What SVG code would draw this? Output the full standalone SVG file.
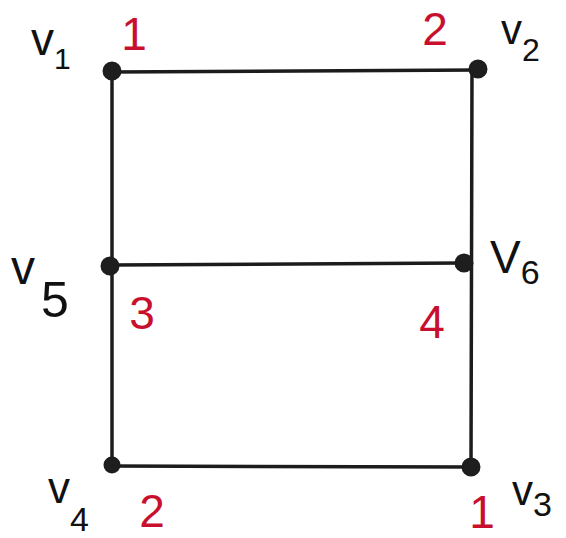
<svg xmlns="http://www.w3.org/2000/svg" width="566" height="538" viewBox="0 0 566 538">
<style>
.edge{stroke:#1c1c1c;stroke-width:3.5;fill:none;stroke-linecap:round}
.node{fill:#1e1e1e;stroke:#1e1e1e;stroke-width:2}
.lbl{font-family:"Liberation Sans","DejaVu Sans",sans-serif;fill:#111}
.num{font-family:"Liberation Sans","DejaVu Sans",sans-serif;fill:#c8102e;font-size:46px;text-anchor:middle}
</style>
<rect width="566" height="538" fill="#fff"/>
<g id="edges">
<line class="edge" x1="112" y1="72" x2="478" y2="70"/>
<line class="edge" x1="112" y1="72" x2="112" y2="465"/>
<line class="edge" x1="472" y1="70" x2="471" y2="468"/>
<line class="edge" x1="112" y1="265" x2="462" y2="263"/>
<line class="edge" x1="112" y1="466" x2="472" y2="467"/>
</g>
<g id="v1">
<circle class="node" cx="112" cy="71" r="8.5"/>
<text class="lbl" x="31" y="55" font-size="46">v<tspan font-size="30" dy="14">1</tspan></text>
<text class="num" x="134" y="50">1</text>
</g>
<g id="v2">
<circle class="node" cx="478" cy="69" r="8.5"/>
<text class="lbl" x="501" y="44" font-size="42">v<tspan font-size="32" dy="17">2</tspan></text>
<text class="num" x="435" y="45">2</text>
</g>
<g id="v5">
<circle class="node" cx="110" cy="266" r="8.5"/>
<text class="lbl" x="11" y="284" font-size="48">v<tspan font-size="50" dx="6" dy="33">5</tspan></text>
<text class="num" x="142" y="329">3</text>
</g>
<g id="v6">
<circle class="node" cx="464" cy="263" r="8.5"/>
<text class="lbl" x="490" y="273" font-size="46">V<tspan font-size="34" dy="11">6</tspan></text>
<text class="num" x="432" y="338">4</text>
</g>
<g id="v4">
<circle class="node" cx="112" cy="465" r="7.5"/>
<text class="lbl" x="48" y="503" font-size="44">v<tspan font-size="34" dy="28">4</tspan></text>
<text class="num" x="152" y="527">2</text>
</g>
<g id="v3">
<circle class="node" cx="471" cy="467" r="8.5"/>
<text class="lbl" x="512" y="505" font-size="42">v<tspan font-size="34" dy="11">3</tspan></text>
<text class="num" x="482" y="528">1</text>
</g>
</svg>
